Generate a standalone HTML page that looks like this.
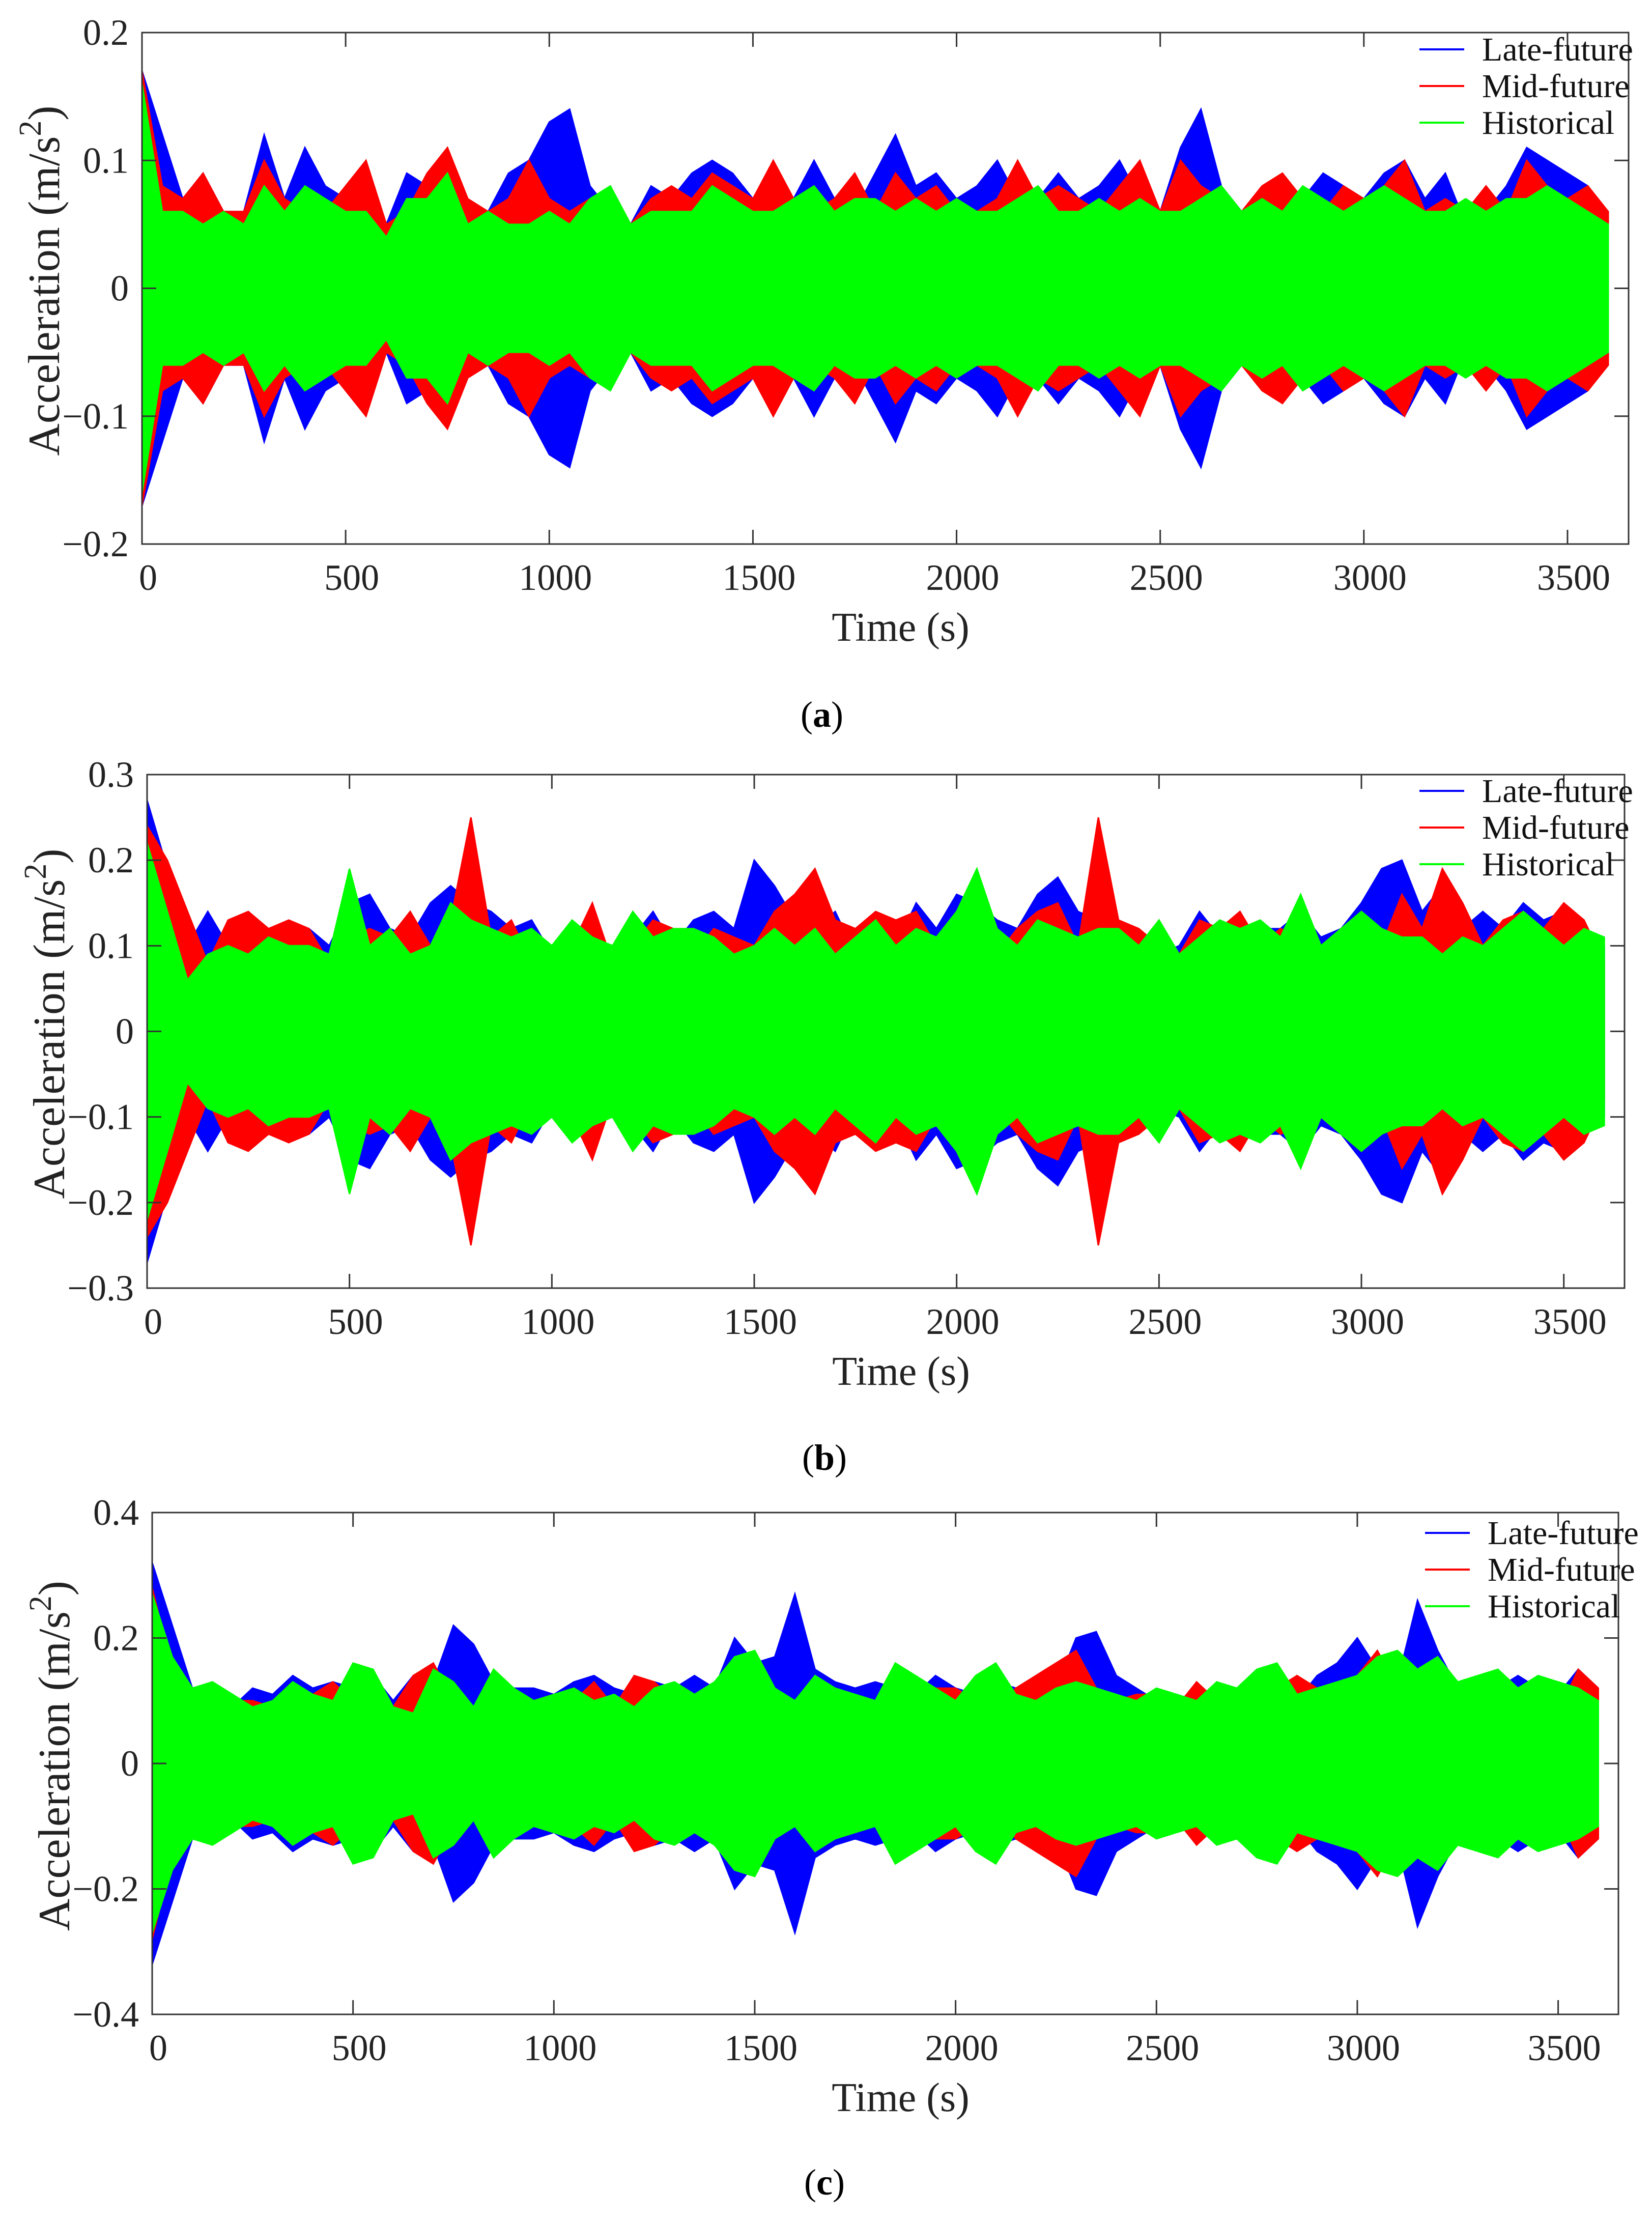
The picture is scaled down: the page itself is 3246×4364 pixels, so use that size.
<!DOCTYPE html>
<html><head><meta charset="utf-8"><style>
html,body{margin:0;padding:0;background:#fff}
svg{display:block;font-family:"Liberation Serif",serif}
</style></head><body>
<svg id="fig" width="3246" height="4364" viewBox="0 0 3246 4364" xmlns="http://www.w3.org/2000/svg"></svg>
<script>
const times=[0,50,100,150,200,250,300,350,400,450,500,550,600,650,700,750,800,850,900,950,1000,1050,1100,1150,1200,1250,1300,1350,1400,1450,1500,1550,1600,1650,1700,1750,1800,1850,1900,1950,2000,2050,2100,2150,2200,2250,2300,2350,2400,2450,2500,2550,2600,2650,2700,2750,2800,2850,2900,2950,3000,3050,3100,3150,3200,3250,3300,3350,3400,3450,3500,3550,3600];
const xTicks=[0,500,1000,1500,2000,2500,3000,3500];
const seriesNames=["Late-future","Mid-future","Historical"];
const aLate=[0.17,0.12,0.07,0.09,0.06,0.06,0.12,0.07,0.11,0.08,0.07,0.09,0.05,0.09,0.08,0.09,0.06,0.06,0.09,0.10,0.13,0.14,0.08,0.06,0.05,0.08,0.07,0.09,0.10,0.09,0.07,0.09,0.07,0.10,0.07,0.06,0.09,0.12,0.08,0.09,0.07,0.08,0.10,0.07,0.07,0.09,0.07,0.08,0.10,0.07,0.06,0.11,0.14,0.08,0.06,0.06,0.08,0.07,0.09,0.08,0.07,0.09,0.10,0.07,0.09,0.05,0.06,0.08,0.11,0.10,0.09,0.08,0.05];
const aMid=[0.17,0.08,0.07,0.09,0.06,0.06,0.10,0.07,0.06,0.06,0.08,0.10,0.05,0.06,0.09,0.11,0.07,0.06,0.07,0.10,0.07,0.06,0.07,0.06,0.05,0.07,0.08,0.07,0.09,0.08,0.07,0.10,0.07,0.06,0.07,0.09,0.06,0.09,0.07,0.08,0.06,0.06,0.07,0.10,0.07,0.08,0.07,0.06,0.08,0.10,0.06,0.10,0.08,0.07,0.06,0.08,0.09,0.07,0.06,0.08,0.07,0.08,0.10,0.06,0.07,0.06,0.08,0.06,0.10,0.08,0.07,0.08,0.06];
const aHist=[0.16,0.06,0.06,0.05,0.06,0.05,0.08,0.06,0.08,0.07,0.06,0.06,0.04,0.07,0.07,0.09,0.05,0.06,0.05,0.05,0.06,0.05,0.07,0.08,0.05,0.06,0.06,0.06,0.08,0.07,0.06,0.06,0.07,0.08,0.06,0.07,0.07,0.06,0.07,0.06,0.07,0.06,0.06,0.07,0.08,0.06,0.06,0.07,0.06,0.07,0.06,0.06,0.07,0.08,0.06,0.07,0.06,0.08,0.07,0.06,0.07,0.08,0.07,0.06,0.06,0.07,0.06,0.07,0.07,0.08,0.07,0.06,0.05];
const bLate=[0.27,0.19,0.10,0.14,0.10,0.13,0.12,0.10,0.12,0.10,0.15,0.16,0.12,0.11,0.15,0.17,0.15,0.14,0.12,0.13,0.09,0.10,0.12,0.09,0.11,0.14,0.10,0.13,0.14,0.12,0.20,0.17,0.13,0.12,0.14,0.09,0.13,0.10,0.15,0.12,0.16,0.15,0.13,0.12,0.16,0.18,0.14,0.13,0.12,0.11,0.09,0.10,0.14,0.11,0.10,0.12,0.12,0.14,0.11,0.12,0.15,0.19,0.20,0.14,0.17,0.12,0.14,0.12,0.15,0.13,0.14,0.10,0.10];
const bMid=[0.24,0.20,0.14,0.08,0.13,0.14,0.12,0.13,0.12,0.08,0.11,0.12,0.11,0.14,0.10,0.13,0.25,0.11,0.13,0.08,0.08,0.10,0.15,0.08,0.10,0.13,0.12,0.09,0.12,0.11,0.10,0.14,0.16,0.19,0.13,0.12,0.14,0.13,0.14,0.10,0.11,0.12,0.09,0.12,0.14,0.15,0.10,0.25,0.13,0.12,0.10,0.09,0.13,0.12,0.14,0.10,0.12,0.11,0.10,0.12,0.14,0.10,0.16,0.12,0.19,0.15,0.10,0.13,0.14,0.12,0.15,0.13,0.08];
const bHist=[0.22,0.14,0.06,0.09,0.10,0.09,0.11,0.10,0.10,0.09,0.19,0.10,0.12,0.09,0.10,0.15,0.13,0.12,0.11,0.12,0.10,0.13,0.11,0.10,0.14,0.11,0.12,0.12,0.11,0.09,0.10,0.12,0.10,0.12,0.09,0.11,0.13,0.10,0.12,0.11,0.14,0.19,0.12,0.10,0.13,0.12,0.11,0.12,0.12,0.10,0.13,0.09,0.11,0.13,0.12,0.13,0.11,0.16,0.10,0.12,0.14,0.12,0.11,0.11,0.09,0.11,0.10,0.12,0.14,0.12,0.10,0.12,0.11];
const cLate=[0.32,0.22,0.12,0.10,0.09,0.12,0.11,0.14,0.12,0.13,0.12,0.14,0.10,0.14,0.13,0.22,0.19,0.13,0.12,0.12,0.11,0.13,0.14,0.12,0.11,0.13,0.12,0.14,0.12,0.20,0.16,0.17,0.27,0.15,0.13,0.12,0.13,0.12,0.11,0.14,0.12,0.11,0.13,0.12,0.13,0.12,0.20,0.21,0.14,0.12,0.10,0.11,0.10,0.12,0.11,0.12,0.12,0.10,0.14,0.16,0.20,0.15,0.13,0.26,0.18,0.12,0.13,0.12,0.14,0.12,0.11,0.15,0.12];
const cMid=[0.28,0.15,0.08,0.07,0.10,0.10,0.09,0.10,0.11,0.13,0.10,0.08,0.09,0.14,0.16,0.10,0.08,0.09,0.08,0.10,0.11,0.10,0.13,0.09,0.14,0.13,0.10,0.09,0.10,0.11,0.10,0.10,0.09,0.09,0.12,0.09,0.10,0.12,0.10,0.12,0.12,0.10,0.08,0.12,0.14,0.16,0.18,0.12,0.10,0.11,0.11,0.09,0.13,0.10,0.11,0.10,0.12,0.14,0.12,0.10,0.14,0.18,0.12,0.14,0.16,0.09,0.10,0.08,0.11,0.09,0.08,0.15,0.12];
const cHist=[0.27,0.17,0.12,0.13,0.11,0.09,0.10,0.13,0.11,0.10,0.16,0.15,0.09,0.08,0.15,0.13,0.09,0.15,0.12,0.10,0.11,0.12,0.10,0.11,0.09,0.12,0.13,0.11,0.13,0.17,0.18,0.12,0.10,0.14,0.12,0.11,0.10,0.16,0.14,0.12,0.10,0.14,0.16,0.11,0.10,0.12,0.13,0.12,0.11,0.10,0.12,0.11,0.10,0.13,0.12,0.15,0.16,0.11,0.12,0.13,0.14,0.17,0.18,0.15,0.17,0.13,0.14,0.15,0.12,0.14,0.13,0.12,0.10];
const aYTicks=[-0.2,-0.1,0,0.1,0.2];
const bYTicks=[-0.3,-0.2,-0.1,0,0.1,0.2,0.3];
const cYTicks=[-0.4,-0.2,0,0.2,0.4];

const NS="http://www.w3.org/2000/svg";
const svg=document.getElementById('fig');
const colors=["#0000ff","#ff0000","#00ff00"];
function mk(tag,attrs,parent){const e=document.createElementNS(NS,tag);for(const k in attrs)e.setAttribute(k,attrs[k]);(parent||svg).appendChild(e);return e;}
function fmt(v){if(v===0)return "0";return (v<0?"\u2212":"")+String(Math.abs(v));}

function panel(id,box,yMax,yTicks,series,cap){
  const g=mk('g',{});
  
  
  const L=box.l,R=box.r,T=box.t,B=box.b;
  const xs=t=>L+t/3650*(R-L);
  const ys=v=>(T+B)/2-v/yMax*(B-T)/2;
  series.forEach((arr,si)=>{
    let up=[],dn=[];
    times.forEach((t,i)=>{up.push(xs(t).toFixed(1)+","+ys(arr[i]).toFixed(1));dn.unshift(xs(t).toFixed(1)+","+ys(-arr[i]).toFixed(1));});
    const p=mk('polygon',{points:up.concat(dn).join(" "),fill:colors[si],stroke:colors[si],'stroke-width':3},g);
    
    
  });
  const frame=mk('rect',{x:L,y:T,width:R-L,height:B-T,fill:'none',stroke:'#333','stroke-width':3},g);
  
  
  xTicks.forEach(t=>{
    const x=xs(t);
    mk('line',{x1:x,y1:B,x2:x,y2:B-28,stroke:'#333','stroke-width':3},g);
    mk('line',{x1:x,y1:T,x2:x,y2:T+28,stroke:'#333','stroke-width':3},g);
    const tx=mk('text',{x:x+12,y:B+90,'font-size':72,'text-anchor':'middle',fill:'#222'},g);
    tx.textContent=String(t);
    
    
  });
  yTicks.forEach(v=>{
    const y=ys(v);
    mk('line',{x1:L,y1:y,x2:L+28,y2:y,stroke:'#333','stroke-width':3},g);
    mk('line',{x1:R,y1:y,x2:R-28,y2:y,stroke:'#333','stroke-width':3},g);
    const tx=mk('text',{x:L-26,y:y+24,'font-size':72,'text-anchor':'end',fill:'#222'},g);
    tx.textContent=fmt(v);
    
    
  });
  const xl=mk('text',{x:(L+R)/2+30,y:B+190,'font-size':80,'text-anchor':'middle',fill:'#222'},g);
  xl.textContent="Time (s)";
  
  
  const yl=mk('text',{transform:`translate(${L-163},${(T+B)/2-15}) rotate(-90)`,'font-size':88,'text-anchor':'middle',fill:'#222'},g);
  
  
  const t1=mk('tspan',{},yl);t1.textContent="Acceleration (m/s";
  const t2=mk('tspan',{dy:-36,'font-size':62},yl);t2.textContent="2";
  const t3=mk('tspan',{dy:36},yl);t3.textContent=")";
  const lg=mk('g',{},g);
  
  
  seriesNames.forEach((n,i)=>{
    const y=box.legY+i*72;
    mk('line',{x1:box.legX,y1:y,x2:box.legX+88,y2:y,stroke:colors[i],'stroke-width':4},lg);
    const tx=mk('text',{x:box.legX+123,y:y+22,'font-size':66,fill:'#111'},lg);
    tx.textContent=n;
    
    
  });
  const c=mk('text',{x:cap.x,y:cap.y,'font-size':72,'text-anchor':'middle',fill:'#000'},g);
  
  
  const c1=mk('tspan',{},c);c1.textContent="(";
  const c2=mk('tspan',{'font-weight':'bold'},c);c2.textContent=id;
  const c3=mk('tspan',{},c);c3.textContent=")";
}
panel('a',{l:279,r:3200,t:64,b:1069,legX:2789,legY:97},0.2,aYTicks,[aLate,aMid,aHist],{x:1615,y:1428});
panel('b',{l:289,r:3192,t:1522,b:2531,legX:2789,legY:1554},0.3,bYTicks,[bLate,bMid,bHist],{x:1620,y:2888});
panel('c',{l:299,r:3180,t:2972,b:3958,legX:2800,legY:3012},0.4,cYTicks,[cLate,cMid,cHist],{x:1620,y:4312});
</script>
</body></html>
